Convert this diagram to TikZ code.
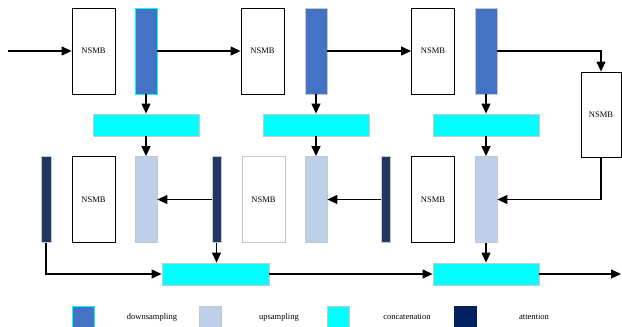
\documentclass[tikz,border=0pt]{standalone}
\usepackage{fontspec}
\setmainfont{Liberation Serif}
\usetikzlibrary{arrows.meta}

\definecolor{downc}{HTML}{4472C4}
\definecolor{upc}{HTML}{BDD0E9}
\definecolor{attc}{HTML}{1F3864}
\definecolor{attleg}{HTML}{002060}
\definecolor{edgec}{HTML}{C8C8C8}
\definecolor{aqua}{HTML}{00FFFF}

\begin{document}
\begin{tikzpicture}[
            x = 1pt, y = -1pt,
            > = {Triangle[length=10pt,width=9pt]}, % arrow head style
            line width = 1.2pt, % line style
            every node/.style = {font=\fontsize{8.5}{10}\selectfont, inner sep=0pt},
            nsmb/.style = {draw=black, line width=0.8pt, fill=white, minimum width=43pt, minimum height=86pt},
            down/.style = {draw=edgec, line width=0.8pt, fill=downc, minimum width=22pt, minimum height=86pt},
            up/.style = {draw=edgec, line width=0.8pt, fill=upc, minimum width=22pt, minimum height=86pt},
            att/.style = {draw=edgec, line width=0.8pt, fill=attc, minimum width=9pt, minimum height=86pt},
            concat/.style = {draw=edgec, line width=0.8pt, fill=aqua, minimum width=106pt, minimum height=22pt},
            legbox/.style = {draw=edgec, line width=0.8pt, minimum width=22pt, minimum height=22pt}
        ]
\useasboundingbox (0,0) rectangle (622,327);

% top row
\node[nsmb] (N1) at (93.5,51) {NSMB};
\node[down,draw=aqua] (D1) at (146,51) {};
\node[nsmb] (N2) at (262.5,51) {NSMB};
\node[down] (D2) at (316,51) {};
\node[nsmb] (N3) at (433,51) {NSMB};
\node[down] (D3) at (486,51) {};
\node[nsmb,minimum width=40pt,minimum height=85pt] (NR) at (601,114.5) {NSMB};

\node[concat] (C1) at (146,125) {};
\node[concat] (C2) at (316,125) {};
\node[concat] (C3) at (486,125) {};

% second row
\node[att,minimum width=10pt] (A1) at (46,199.5) {};
\node[nsmb] (M1) at (93.5,199.5) {NSMB};
\node[up] (U1) at (146,199.5) {};
\node[att] (A2) at (216.5,199.5) {};
\node[nsmb,draw=edgec] (M2) at (263.5,199.5) {NSMB};
\node[up] (U2) at (316,199.5) {};
\node[att] (A3) at (385.5,199.5) {};
\node[nsmb] (M3) at (433,199.5) {NSMB};
\node[up] (U3) at (486,199.5) {};

\node[concat,minimum width=107pt] (B1) at (215.5,274) {};
\node[concat] (B2) at (486,274) {};

\coordinate (in) at (8,51);
\coordinate (out) at (621,274);

 \path [->] (in) edge (N1);
 \path [->] (D1) edge (N2);
 \path [->] (D2) edge (N3);
 \draw [->] (D3.east) -| (NR.north);

 \path [->] (D1) edge (C1);
 \path [->] (D2) edge (C2);
 \path [->] (D3) edge (C3);
 \path [->] (C1) edge (U1);
 \path [->] (C2) edge (U2);
 \path [->] (C3) edge (U3);

 \path [->] (A2) edge (U1);
 \path [->] (A3) edge (U2);
 \draw [->] (NR.south) |- (U3.east);

 \draw [->] (A1.south) |- (B1.west);
 \draw [->] (A2.south) -- (A2.south |- B1.north);
 \path [->] (B1) edge (B2);
 \path [->] (U3) edge (B2);
 \draw [->] (B2.east) -- (out);

% legend
\node[legbox,fill=downc,draw=aqua] (L1) at (83,317) {};
\node (T1) at (152,317) {downsampling};
\node[legbox,fill=upc] (L2) at (210,317) {};
\node (T2) at (279,317) {upsampling};
\node[legbox,fill=aqua] (L3) at (338,317) {};
\node (T3) at (407,317) {concatenation};
\node[legbox,fill=attleg,draw=attleg] (L4) at (465,317) {};
\node (T4) at (534,317) {attention};
\end{tikzpicture}
\end{document}
